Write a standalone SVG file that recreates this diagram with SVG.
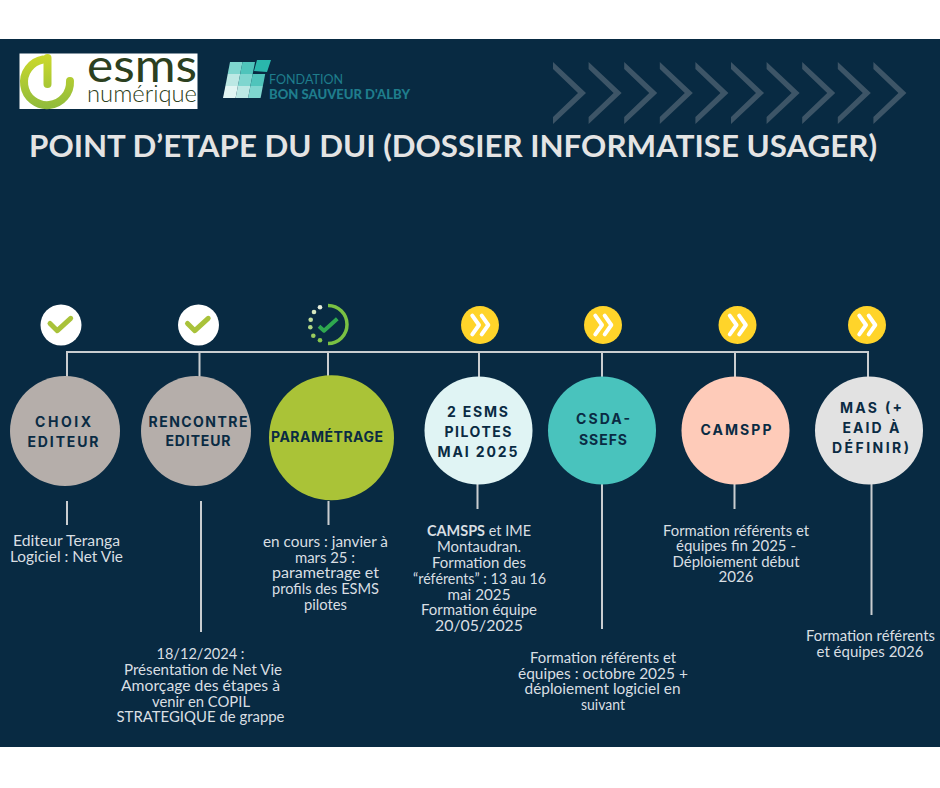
<svg xmlns="http://www.w3.org/2000/svg" width="940" height="788" viewBox="0 0 940 788">
<style>
.body{font-family:"Lato","Liberation Sans",sans-serif;font-size:14.500px;fill:#d9dfe3;text-anchor:middle}
.lab{font-family:"Inter","Liberation Sans",sans-serif;font-weight:700;font-size:14px;fill:#0a2b43;text-anchor:middle}
.conn{stroke:#c9cdd0;stroke-width:2;fill:none}
.ck{fill:none;stroke:#a9c23a;stroke-width:5;stroke-linecap:round;stroke-linejoin:round}
.ch{fill:none;stroke:#fff;stroke-width:4;stroke-linecap:round;stroke-linejoin:round}
.chev{fill:#3d5567}
</style>
<defs>
<linearGradient id="g" gradientUnits="userSpaceOnUse" x1="0" y1="54" x2="0" y2="109"><stop offset="0" stop-color="#cdd92b"/><stop offset="1" stop-color="#8fbb3c"/></linearGradient>
<polygon id="cv" points="553,62 586,93 553,124 553,117 578,93 553,69"/>
<g id="yl"><circle cx="0" cy="0" r="19" fill="#ffd42a"/><path class="ch" d="M-7.700,-9.300L-1,0L-7.700,9.300M1.700,-9.300L8.300,0L1.700,9.300"/></g>
</defs>
<rect width="940" height="788" fill="#ffffff"/>
<rect x="0" y="39" width="940" height="708" fill="#082a42"/>

<g id="logo-esms">
<rect x="19.500" y="53.500" width="178" height="55.500" fill="#ffffff"/>
<path d="M70,81A23,23 0 1 1 43,59.500" fill="none" stroke="url(#g)" stroke-width="8" stroke-linecap="round"/>
<path d="M47.500,58V84" fill="none" stroke="url(#g)" stroke-width="8" stroke-linecap="round"/>
<text x="87" y="82" font-family="Lato,'Liberation Sans',sans-serif" font-size="46" font-weight="400" fill="#2c4020" textLength="110" lengthAdjust="spacingAndGlyphs">esms</text>
<text x="87" y="102" font-family="Lato,'Liberation Sans',sans-serif" font-size="24" font-weight="300" fill="#2c4020" textLength="110" lengthAdjust="spacingAndGlyphs">numérique</text>
</g>

<g id="logo-fondation">
<polygon points="257,60 271,60 267,72 254,71" fill="#2ab7ac"/>
<polygon points="230,62 242.500,62 240.200,74 227.700,74" fill="#7fd6cf"/>
<polygon points="242.500,62 255,62 252.700,74 240.200,74" fill="#4fc4bb"/>
<polygon points="227.700,74 240.200,74 237.900,86 225.400,86" fill="#bce8e4"/>
<polygon points="240.200,74 252.700,74 250.400,86 237.900,86" fill="#7fd6cf"/>
<polygon points="252.700,74 265.200,74 262.900,86 250.400,86" fill="#4fc4bb"/>
<polygon points="225.400,86 237.900,86 235.600,98 223,98" fill="#e2f5f3"/>
<polygon points="237.900,86 250.400,86 248.100,98 235.600,98" fill="#bce8e4"/>
<polygon points="250.400,86 262.900,86 260.600,98 248.100,98" fill="#7fd6cf"/>
<text x="269" y="83.500" font-family="Lato,'Liberation Sans',sans-serif" font-size="13" fill="#1f7d8c" textLength="74" lengthAdjust="spacingAndGlyphs">FONDATION</text>
<text x="269" y="98.500" font-family="Lato,'Liberation Sans',sans-serif" font-size="13" font-weight="900" fill="#1f7d8c" textLength="141" lengthAdjust="spacingAndGlyphs">BON SAUVEUR D'ALBY</text>
</g>

<g id="chevrons" class="chev">
<use href="#cv"/><use href="#cv" x="35.600"/><use href="#cv" x="71.200"/><use href="#cv" x="106.800"/><use href="#cv" x="142.400"/><use href="#cv" x="178"/><use href="#cv" x="213.600"/><use href="#cv" x="249.200"/><use href="#cv" x="284.800"/><use href="#cv" x="320.400"/>
</g>

<text id="title" x="29" y="157" font-family="Lato,'Liberation Sans',sans-serif" font-size="31" font-weight="700" fill="#e4e4e4" textLength="848" lengthAdjust="spacingAndGlyphs">POINT D’ETAPE DU DUI (DOSSIER INFORMATISE USAGER)</text>

<g id="connectors">
<path class="conn" d="M67,377V352H868V377M199.500,352V377M328,352V376M479,352V377M602,352V377M735,352V377"/>
<path class="conn" d="M67,501V525M201,501V632M328.500,501V525M477.500,484V509M602,484V629M734.500,484V509M871.500,484V615"/>
</g>

<g id="status-1"><circle cx="61" cy="325" r="20.500" fill="#fff"/><path class="ck" d="M50,323.500L57.300,330.700L70.700,318.300"/></g>
<g id="status-2"><circle cx="198.500" cy="325" r="20.500" fill="#fff"/><path class="ck" d="M187.500,323.500L194.800,330.700L208.200,318.300"/></g>
<g id="status-3">
<path d="M328,305.500A19,19 0 0 1 328,343.500" fill="none" stroke="#7ac143" stroke-width="3.500"/>
<circle cx="320" cy="307.300" r="2.300" fill="#e6eedb"/><circle cx="314" cy="312" r="2.300" fill="#d6e6bf"/><circle cx="310.700" cy="319.700" r="2.300" fill="#c1dd9c"/><circle cx="310.300" cy="327.300" r="2.300" fill="#aed683"/><circle cx="313.300" cy="335.700" r="2.300" fill="#9acb5e"/><circle cx="320" cy="340.300" r="2.300" fill="#85c54c"/>
<path d="M319,326.300L324,330.700L337.300,318.700" fill="none" stroke="#2fa84f" stroke-width="4" stroke-linejoin="round"/>
</g>
<use id="status-4" href="#yl" x="480" y="325"/>
<use id="status-5" href="#yl" x="603" y="325"/>
<use id="status-6" href="#yl" x="737.500" y="325"/>
<use id="status-7" href="#yl" x="867" y="325"/>

<g id="node-choix"><circle cx="65" cy="431" r="55" fill="#b5aeaa"/>
<text class="lab" x="63" y="427" textLength="56">CHOIX</text><text class="lab" x="63" y="447" textLength="71">EDITEUR</text></g>
<g id="node-rencontre"><circle cx="196" cy="431" r="55" fill="#b5aeaa"/>
<text class="lab" x="198" y="427" textLength="99">RENCONTRE</text><text class="lab" x="198" y="446" textLength="65">EDITEUR</text></g>
<g id="node-parametrage"><circle cx="331.500" cy="437.700" r="62.500" fill="#aac337"/>
<text class="lab" x="327" y="442" textLength="112">PARAMÉTRAGE</text></g>
<g id="node-esms"><circle cx="478.500" cy="430.500" r="54" fill="#e0f4f4"/>
<text class="lab" x="477.500" y="417" textLength="61">2 ESMS</text><text class="lab" x="478" y="437" textLength="67">PILOTES</text><text class="lab" x="477.500" y="457" textLength="80">MAI 2025</text></g>
<g id="node-csda"><circle cx="602" cy="430.500" r="54" fill="#49c3bd"/>
<text class="lab" x="603" y="424" textLength="54">CSDA-</text><text class="lab" x="603" y="445" textLength="48">SSEFS</text></g>
<g id="node-camspp"><circle cx="735.500" cy="430.500" r="54" fill="#fecbb9"/>
<text class="lab" x="736" y="435" textLength="71">CAMSPP</text></g>
<g id="node-mas"><circle cx="869" cy="430.500" r="54" fill="#e2e2e2"/>
<text class="lab" x="871" y="413" textLength="62">MAS (+</text><text class="lab" x="871" y="433" textLength="57">EAID À</text><text class="lab" x="870.500" y="453" textLength="77">DÉFINIR)</text></g>

<g id="text-1"><text class="body" x="66.500" y="546" textLength="107" lengthAdjust="spacingAndGlyphs">Editeur Teranga</text><text class="body" x="66.500" y="562" textLength="113" lengthAdjust="spacingAndGlyphs">Logiciel : Net Vie</text></g>
<g id="text-2"><text class="body" x="200.500" y="659" textLength="88" lengthAdjust="spacingAndGlyphs">18/12/2024 :</text><text class="body" x="203" y="675" textLength="158" lengthAdjust="spacingAndGlyphs">Présentation de Net Vie</text><text class="body" x="200.500" y="691" textLength="159" lengthAdjust="spacingAndGlyphs">Amorçage des étapes à</text><text class="body" x="201" y="707" textLength="98" lengthAdjust="spacingAndGlyphs">venir en COPIL</text><text class="body" x="200.500" y="722" textLength="168" lengthAdjust="spacingAndGlyphs">STRATEGIQUE de grappe</text></g>
<g id="text-3"><text class="body" x="325.500" y="546.500" textLength="125" lengthAdjust="spacingAndGlyphs">en cours : janvier à</text><text class="body" x="325" y="562.500" textLength="60" lengthAdjust="spacingAndGlyphs">mars 25 :</text><text class="body" x="325.500" y="578" textLength="107" lengthAdjust="spacingAndGlyphs">parametrage et</text><text class="body" x="325.500" y="594" textLength="107" lengthAdjust="spacingAndGlyphs">profils des ESMS</text><text class="body" x="325.500" y="610" textLength="43" lengthAdjust="spacingAndGlyphs">pilotes</text></g>
<g id="text-4"><text class="body" x="479" y="536" textLength="104" lengthAdjust="spacingAndGlyphs"><tspan font-weight="700">CAMSPS</tspan> et IME</text><text class="body" x="479" y="552" textLength="84" lengthAdjust="spacingAndGlyphs">Montaudran.</text><text class="body" x="479" y="568" textLength="94" lengthAdjust="spacingAndGlyphs">Formation des</text><text class="body" x="479.500" y="584" textLength="133" lengthAdjust="spacingAndGlyphs">“référents” : 13 au 16</text><text class="body" x="479" y="600" textLength="63" lengthAdjust="spacingAndGlyphs">mai 2025</text><text class="body" x="479" y="615" textLength="116" lengthAdjust="spacingAndGlyphs">Formation équipe</text><text class="body" x="479" y="631" textLength="88" lengthAdjust="spacingAndGlyphs">20/05/2025</text></g>
<g id="text-5"><text class="body" x="603" y="663" textLength="146" lengthAdjust="spacingAndGlyphs">Formation référents et</text><text class="body" x="603" y="679" textLength="170" lengthAdjust="spacingAndGlyphs">équipes : octobre 2025 +</text><text class="body" x="602.500" y="694" textLength="156" lengthAdjust="spacingAndGlyphs">déploiement logiciel en</text><text class="body" x="603" y="710" textLength="44" lengthAdjust="spacingAndGlyphs">suivant</text></g>
<g id="text-6"><text class="body" x="736" y="536" textLength="146" lengthAdjust="spacingAndGlyphs">Formation référents et</text><text class="body" x="736" y="551" textLength="120" lengthAdjust="spacingAndGlyphs">équipes fin 2025 -</text><text class="body" x="736" y="567" textLength="127" lengthAdjust="spacingAndGlyphs">Déploiement début</text><text class="body" x="736" y="582" textLength="35" lengthAdjust="spacingAndGlyphs">2026</text></g>
<g id="text-7"><text class="body" x="870.500" y="641" textLength="129" lengthAdjust="spacingAndGlyphs">Formation référents</text><text class="body" x="870" y="657" textLength="107" lengthAdjust="spacingAndGlyphs">et équipes 2026</text></g>
</svg>
